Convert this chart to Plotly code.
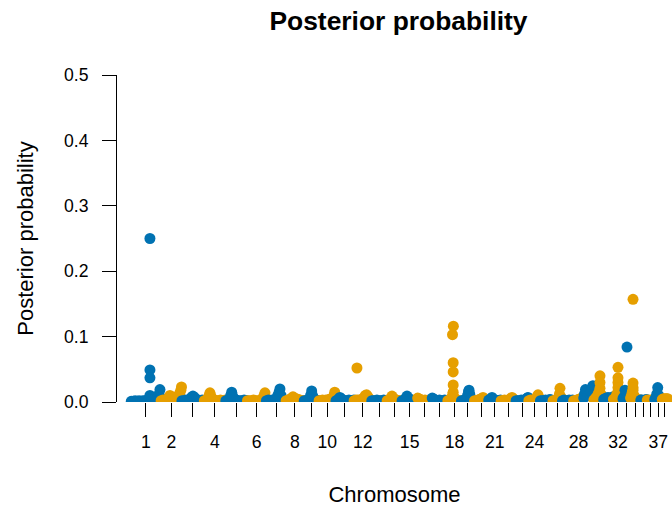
import numpy as np
import plotly.graph_objects as go

# Chromosome lengths (Mb), autosomes 1-38
CHROM_LEN = [122.68, 85.43, 91.89, 88.28, 88.92, 77.57, 80.97, 74.33, 61.07, 69.33,
             74.39, 72.50, 63.24, 60.97, 64.19, 59.63, 64.29, 55.84, 53.74, 58.13,
             50.86, 61.44, 52.29, 47.70, 51.63, 38.96, 45.88, 41.18, 41.85, 40.21,
             39.90, 38.81, 31.38, 42.12, 26.52, 30.81, 30.90, 23.91]

# Chromosomes that get a printed tick label
LABELED = [1, 2, 4, 6, 8, 10, 12, 15, 18, 21, 24, 28, 32, 37]

# SNP positions within each chromosome (Mb)
SNP_POS = [
    [1, 9, 17, 25, 33, 41, 49, 57, 65, 71, 76, 77.7, 77.7, 77.7, 77.7, 80, 86, 93, 100, 106, 111, 115, 118.8, 122],
    [1, 9, 17, 25, 33, 37, 42, 50, 58, 66, 73, 78, 82, 84.5],
    [1, 9, 17, 25, 33, 40, 46, 52, 60, 68, 76, 84, 90],
    [1, 9, 17, 21, 24, 28, 35, 43, 51, 59, 67, 75, 83, 87],
    [1, 9, 16, 21, 25, 29, 36, 44, 52, 60, 68, 76, 84, 88],
    [1, 9, 17, 25, 33, 41, 49, 57, 63, 68, 72.6, 76],
    [1, 9, 17, 25, 33, 41, 48, 53, 56.6, 61, 68, 75, 80],
    [1, 9, 17, 24, 29, 35, 42, 50, 58, 66, 73],
    [1, 8, 15, 22, 27, 31.5, 36, 43, 50, 57, 60],
    [1, 8, 15, 22, 29, 36, 43, 50, 56, 61, 65, 68.5],
    [1, 8, 13, 17, 22, 30, 38, 46, 54, 62, 70, 74],
    [1, 8, 12.6, 16, 24, 32, 38, 43, 47, 52, 58, 64, 70],
    [1, 8, 15, 22, 29, 36, 43, 50, 57, 62],
    [1, 7, 13, 17, 20.6, 25, 32, 39, 46, 53, 60],
    [1, 7, 13, 18, 21.3, 26, 33, 40, 47, 54, 61, 64],
    [1, 5, 10, 17, 24, 31, 38, 45, 52, 59],
    [1, 5, 10, 17, 24, 31, 38, 45, 52, 59, 63],
    [1, 7, 13, 17, 20, 21, 22.7, 22.7, 22.7, 22.7, 23.5, 25, 30, 36, 42, 48, 54],
    [1, 7, 14, 21, 26, 30, 32, 35, 40, 46, 52],
    [1, 8, 15, 22, 29, 35.6, 42, 49, 56],
    [1, 7, 14.3, 21, 28, 35, 42, 49],
    [1, 8, 15, 22, 29, 36, 42, 45.5, 50, 56, 61],
    [1, 8, 15, 22, 29, 36, 42, 47, 50, 52],
    [1, 8, 15, 22, 28, 33, 38.6, 43, 47],
    [1, 8, 15, 22, 29, 36, 40, 45, 51],
    [1, 7, 13, 19, 24, 27, 29.5, 33, 38],
    [1, 7, 14, 21, 28, 35, 42, 45],
    [1, 7, 14, 21, 28, 34, 40],
    [1, 4, 8, 13, 19, 25, 30, 35, 38.5, 41],
    [1, 6, 12, 18, 22, 25.8, 25.8, 25.8, 30, 35, 39],
    [1, 6, 12, 18.5, 25, 31, 37, 39.5],
    [1, 6, 11, 15, 19.6, 19.6, 19.6, 19.6, 19.6, 24, 29, 34, 38],
    [1, 5, 9.5, 14, 17.7, 17.7, 21, 26, 31],
    [1, 5, 8, 11.1, 11.1, 11.1, 11.1, 15, 20, 26, 32, 38, 42],
    [1, 6, 12, 18, 24, 26],
    [1, 7, 13, 19, 25, 30],
    [1, 5, 9, 13, 17, 22, 27, 30],
    [1, 6, 12, 18, 23],
]

# Posterior probability of each SNP
POST_PROB = [
    [.001, .001, .002, .001, .002, .001, .002, .002, .002, .003, .006, .250, .049, .037, .010, .005, .006, .004, .005, .006, .008, .012, .019, .006],
    [.002, .003, .002, .004, .007, .010, .006, .005, .006, .008, .010, .014, .018, .023],
    [.002, .002, .003, .002, .004, .007, .009, .007, .004, .003, .002, .003, .002],
    [.002, .003, .006, .010, .014, .009, .004, .003, .002, .002, .003, .002, .002, .003],
    [.002, .003, .005, .010, .015, .009, .004, .003, .002, .002, .002, .003, .002, .002],
    [.002, .002, .002, .003, .002, .002, .002, .003, .005, .009, .014, .006],
    [.002, .003, .002, .003, .003, .005, .010, .015, .020, .010, .004, .003, .002],
    [.002, .003, .004, .006, .008, .006, .005, .004, .003, .002, .002],
    [.002, .002, .003, .005, .010, .017, .009, .004, .003, .002, .002],
    [.002, .002, .003, .002, .003, .003, .004, .005, .006, .009, .015, .010],
    [.002, .003, .005, .007, .005, .003, .002, .002, .003, .002, .002, .003],
    [.002, .003, .052, .003, .003, .004, .005, .007, .010, .011, .008, .004, .003],
    [.002, .002, .002, .003, .002, .002, .002, .003, .002, .002],
    [.002, .003, .004, .006, .009, .006, .004, .003, .002, .002, .002],
    [.002, .002, .004, .006, .009, .006, .004, .003, .002, .002, .003, .002],
    [.006, .005, .004, .003, .002, .003, .002, .002, .003, .004],
    [.006, .005, .003, .002, .002, .003, .002, .002, .003, .002, .002],
    [.002, .003, .004, .006, .103, .012, .060, .046, .026, .015, .116, .008, .005, .003, .002, .002, .002],
    [.002, .002, .003, .005, .010, .016, .018, .012, .005, .003, .002],
    [.002, .002, .003, .004, .005, .007, .004, .003, .002],
    [.003, .004, .007, .004, .003, .002, .002, .003],
    [.002, .002, .003, .002, .003, .004, .005, .007, .005, .003, .002],
    [.002, .002, .002, .003, .002, .003, .004, .006, .007, .005],
    [.002, .003, .002, .003, .004, .007, .011, .006, .003],
    [.002, .002, .002, .003, .002, .003, .004, .003, .002],
    [.002, .002, .003, .004, .007, .012, .021, .008, .003],
    [.002, .003, .002, .002, .003, .002, .003, .002],
    [.002, .002, .003, .004, .005, .006, .008],
    [.006, .012, .019, .014, .010, .012, .016, .020, .025, .012],
    [.003, .005, .008, .012, .015, .040, .021, .030, .012, .006, .003],
    [.004, .005, .006, .007, .006, .005, .006, .008],
    [.004, .005, .008, .012, .053, .037, .030, .022, .015, .010, .007, .006, .005],
    [.005, .008, .018, .012, .084, .015, .010, .006, .004],
    [.006, .010, .015, .157, .029, .022, .018, .010, .006, .004, .003, .003, .003],
    [.003, .003, .002, .003, .004, .003],
    [.003, .002, .003, .002, .003, .004],
    [.004, .006, .012, .022, .010, .005, .003, .003],
    [.004, .005, .005, .005, .005],
]

CHROM_COLORS = ["#0072B2", "#E69F00"]  # odd / even chromosomes

# Cumulative genome coordinate for each chromosome
offsets = np.concatenate([[0.0], np.cumsum(CHROM_LEN)[:-1]])
mids = offsets + np.array(CHROM_LEN) / 2

xs, ys, cols = [], [], []
for i, (pos, pp) in enumerate(zip(SNP_POS, POST_PROB)):
    for p, v in zip(pos, pp):
        xs.append(offsets[i] + p)
        ys.append(v)
        cols.append(CHROM_COLORS[i % 2])

ticktext = [str(c) if c in LABELED else "" for c in range(1, len(CHROM_LEN) + 1)]

FONT = "Liberation Sans, Arial, sans-serif"

fig = go.Figure(go.Scatter(
    x=xs, y=ys, mode="markers",
    marker=dict(size=11, color=cols, line=dict(width=0)),
    cliponaxis=True, hoverinfo="skip", showlegend=False,
))

fig.update_layout(
    width=672, height=509,
    margin=dict(l=117, r=0, t=75, b=107),
    paper_bgcolor="white", plot_bgcolor="white",
    font=dict(family=FONT, color="black"),
    title=dict(text="<b>Posterior probability</b>", font=dict(size=26.4, family=FONT, color="black"),
               x=398.5 / 672, xref="container", xanchor="center",
               y=1 - 21 / 509, yref="container", yanchor="middle"),
)

fig.update_xaxes(
    range=[-57.5, 2220.6], showgrid=False, zeroline=False, showline=False,
    tickmode="array", tickvals=mids, ticktext=ticktext,
    ticks="outside", ticklen=14, tickwidth=1, tickcolor="black",
    tickfont=dict(size=17.6, family=FONT, color="black"), ticklabelstandoff=10,
    title=dict(text="Chromosome", font=dict(size=22, family=FONT, color="black"), standoff=35),
    automargin=False,
)

fig.update_yaxes(
    range=[0, 0.5], showgrid=False, zeroline=False,
    showline=True, linecolor="black", linewidth=1,
    tickmode="array", tickvals=[0, 0.1, 0.2, 0.3, 0.4, 0.5],
    ticktext=["0.0", "0.1", "0.2", "0.3", "0.4", "0.5"],
    ticks="outside", ticklen=14, tickwidth=1, tickcolor="black",
    tickfont=dict(size=17.6, family=FONT, color="black"), ticklabelstandoff=10,
    title=dict(text="Posterior probability", font=dict(size=22, family=FONT, color="black"), standoff=24),
    automargin=False,
)

fig.write_html("out.html")
